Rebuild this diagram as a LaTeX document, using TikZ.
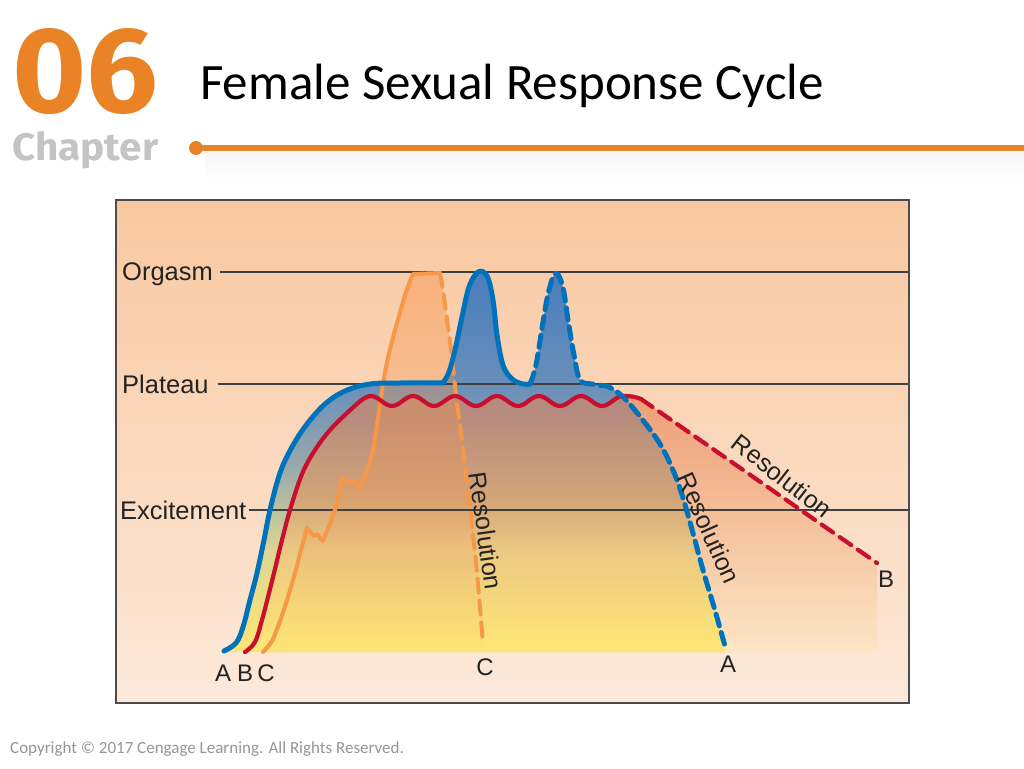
\documentclass[tikz,border=0pt]{standalone}
\usepackage{fontspec}
\usepackage{graphicx}
\usetikzlibrary{fadings}
\setmainfont{Liberation Sans}
\newfontfamily\labelfont{Liberation Sans}
\newfontfamily\titlefont{Carlito}
\newfontfamily\logofont{Fira Sans}
\definecolor{bgtop}{RGB}{249,200,160}
\definecolor{bgbot}{RGB}{252,233,218}
\definecolor{btop}{RGB}{238,158,118}
\definecolor{bmid}{RGB}{246,196,158}
\definecolor{bbot}{RGB}{252,230,198}
\definecolor{atop}{RGB}{72,125,190}
\definecolor{aup}{RGB}{105,143,185}
\definecolor{amid}{RGB}{150,168,172}
\definecolor{alow}{RGB}{222,214,145}
\definecolor{abot}{RGB}{253,228,118}
\definecolor{abtop}{RGB}{182,138,126}
\definecolor{abup}{RGB}{210,165,120}
\definecolor{ablow}{RGB}{235,200,130}
\definecolor{cfill}{RGB}{246,150,80}
\definecolor{lineblue}{RGB}{0,114,188}
\definecolor{linered}{RGB}{200,16,46}
\definecolor{lineorange}{RGB}{247,152,72}
\definecolor{brand}{RGB}{233,131,38}
\definecolor{chapgray}{RGB}{196,196,196}
\definecolor{txt}{RGB}{35,35,35}
\definecolor{copy}{RGB}{150,150,150}
\pgfdeclareverticalshading{ashade}{100bp}{color(0bp)=(abot); color(25bp)=(abot); color(38bp)=(alow); color(50bp)=(amid); color(60bp)=(aup); color(75bp)=(atop); color(100bp)=(atop)}
\pgfdeclareverticalshading{abshade}{100bp}{color(0bp)=(abot); color(27bp)=(abot); color(45bp)=(ablow); color(55bp)=(abup); color(72bp)=(abtop); color(100bp)=(abtop)}
\newcommand\blueRise{plot[smooth,tension=0.6] coordinates {(224,651) (236,643) (243,627) (250,600) (257,573) (264,540) (270,510) (280,473) (292,447) (307,424) (325,404) (345,391) (370,384) (400,383) (443,383)}}
\newcommand\bluePeakOneC{-- plot[smooth,tension=0.6] coordinates {(443,383) (449,372) (455,350) (462,317) (469,287) (478,272) (487,276) (493,300) (497,335) (503,365) (512,379) (523,384) (530,384)}}
\newcommand\bluePeakTwoC{-- plot[smooth,tension=0.6] coordinates {(530,384) (536,365) (543,322) (549,290) (556,273) (563,288) (568,320) (574,355) (580,380) (592,384) (607,386)}}
\newcommand\blueResC{-- plot[smooth,tension=0.6] coordinates {(607,386) (621,395) (638,414) (660,444) (675,475) (686,508) (703,570) (714,607) (725,646)}}
\newcommand\redRise{plot[smooth,tension=0.6] coordinates {(245,652) (255,642) (262,620) (268,597) (274,573) (282,540) (290,510) (302,474) (315,450) (330,430) (347,413) (360,401.3)} -- plot[domain=360:623,samples=90] (\x,{401-5*cos((\x-371)*8.5714)}) .. controls (632,396) and (636,397) .. (641,399)}
\newcommand\orangeRise{plot[smooth,tension=0.5] coordinates {(263,652) (272,641) (280,621) (288,597) (295,573) (301,550) (307,528)} -- (314,536) -- (317,534) -- (323,541) -- plot[smooth,tension=0.5] coordinates {(323,541) (329,526) (335,510) (339,494) (342,478)} -- (350,482) -- (353,481) -- (360,487) -- plot[smooth,tension=0.5] coordinates {(360,487) (367,470) (373,450) (377,425) (380,403) (384,378) (389,353) (397,323) (406,292) (413,274)} -- (440,273)}
\newcommand\orangeResC{-- plot[smooth,tension=0.5] coordinates {(440,273) (443,290) (447,320) (451,350) (457,403) (462,440) (466,475) (470,507) (477,573) (483,644)}}
\tikzset{
  phase/.style={font=\labelfont\fontsize{25.5}{28}\selectfont, text=txt, inner sep=0pt},
  endlabel/.style={font=\labelfont\fontsize{24}{27}\selectfont, text=txt, inner sep=0pt},
  reslabel/.style={font=\labelfont\fontsize{25}{28}\selectfont, text=txt, inner sep=0pt},
  levelline/.style={draw=black!75, line width=1.1pt},
  bluecurve/.style={draw=lineblue, line width=5pt, line cap=round, line join=round},
  redcurve/.style={draw=linered, line width=4.2pt, line cap=round, line join=round},
  orangecurve/.style={draw=lineorange, line width=4pt, line cap=round, line join=round},
  dashblue/.style={dash pattern=on 12pt off 7pt},
  dashlong/.style={dash pattern=on 14pt off 8pt}
}
\begin{document}
\begin{tikzpicture}[x=1pt,y=-1pt]
\useasboundingbox (0,0) rectangle (1024,768);
\fill[white] (0,0) rectangle (1024,768);
% header
\node[anchor=north west, inner sep=0pt, text=brand] (num) at (12,28) {\resizebox{146pt}{84pt}{\logofont\bfseries 06}};
\node[anchor=base west, inner sep=0pt, text=chapgray] (chap) at (12,160) {\resizebox{146pt}{29pt}{\logofont\bfseries Chapter}};
\node[anchor=base west, inner sep=0pt, font=\titlefont\fontsize{51}{56}\selectfont] (title) at (200,99) {Female Sexual Response Cycle};
\shade[top color=black!4, bottom color=white] (205,152) rectangle (1024,180);
\fill[brand] (196,148) circle (7);
\draw[brand, line width=6pt] (196,148) -- (1024,148);
% diagram background
\shade[top color=bgtop, bottom color=bgbot] (116,200) rectangle (909,703);
% B only region
\shade[top color=btop, middle color=bmid, bottom color=bbot] \redRise -- (877,563) -- (877,652) -- (245,652) -- cycle;
% A region
\shade[shading=ashade] \blueRise \bluePeakOneC \bluePeakTwoC \blueResC -- (725,652) -- (224,652) -- cycle;
% A and B overlap
\begin{scope}
\clip \blueRise \bluePeakOneC \bluePeakTwoC \blueResC -- (725,652) -- (224,652) -- cycle;
\shade[shading=abshade] \redRise -- (877,563) -- (877,652) -- (245,652) -- cycle;
\end{scope}
% C region
\fill[cfill, fill opacity=0.5, path fading=south] \orangeRise \orangeResC -- (483,652) -- (263,652) -- cycle;
% level lines
\node[phase, anchor=base west] (orgasm) at (122,280) {Orgasm};
\node[phase, anchor=base west] (plateau) at (122,393) {Plateau};
\node[phase, anchor=base west] (excite) at (120,519) {Excitement};
\coordinate (orgEnd) at (909,272);
\coordinate (plaEnd) at (909,384);
\coordinate (excEnd) at (909,510);
\draw[levelline] (orgasm.east |- orgEnd) ++(7,0) -- (orgEnd);
\draw[levelline] (plateau.east |- plaEnd) ++(9,0) -- (plaEnd);
\draw[levelline] (excite.east |- excEnd) ++(2,0) -- (excEnd);
% curves
\draw[orangecurve] \orangeRise;
\draw[orangecurve, dashlong] (440,273) \orangeResC;
\draw[redcurve] \redRise;
\coordinate (redStart) at (641,399);
\coordinate (redEnd) at (877,563);
\draw[redcurve, dashlong] (redStart) -- (redEnd);
\draw[bluecurve] \blueRise \bluePeakOneC;
\draw[bluecurve, dashblue] (530,384) \bluePeakTwoC \blueResC;
% labels
\node[reslabel, rotate=-82] (resC) at (486,531) {Resolution};
\node[reslabel, rotate=-66] (resA) at (709,528) {Resolution};
\node[reslabel, rotate=-38] (resB) at (782,476) {Resolution};
\node[endlabel, anchor=base] (lA) at (223,681) {A};
\node[endlabel, anchor=base] (lB) at (245,681) {B};
\node[endlabel, anchor=base] (lC) at (266,681) {C};
\node[endlabel, anchor=base] (eC) at (485,675) {C};
\node[endlabel, anchor=base] (eA) at (728,672) {A};
\node[endlabel, anchor=base] (eB) at (886,587) {B};
% frame
\draw[black!70, line width=1.5pt] (116,200) rectangle (909,703);
% footer
\node[anchor=base west, inner sep=0pt, text=copy, font=\titlefont\fontsize{17}{20}\selectfont] (copyright) at (10,753) {Copyright © 2017 Cengage Learning. All Rights Reserved.};
\end{tikzpicture}
\end{document}
